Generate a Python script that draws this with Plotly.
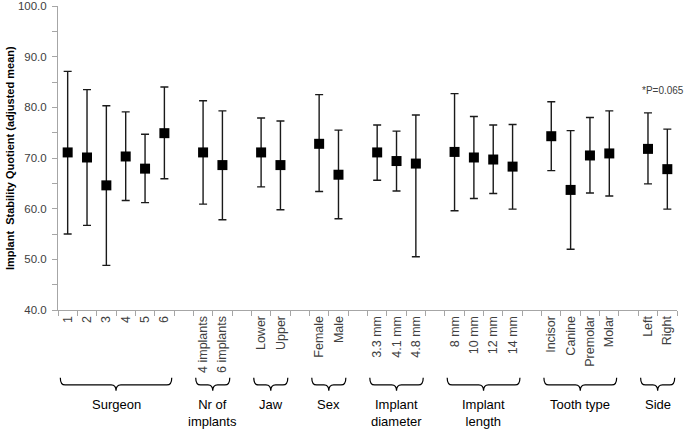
import plotly.graph_objects as go

# ---- data ----
group_names = ["Surgeon", "Nr of<br>implants", "Jaw", "Sex", "Implant<br>diameter",
               "Implant<br>length", "Tooth type", "Side"]
group_cats = [
    ["1", "2", "3", "4", "5", "6"],
    ["4 implants", "6 implants"],
    ["Lower", "Upper"],
    ["Female", "Male"],
    ["3.3 mm", "4.1 mm", "4.8 mm"],
    ["8 mm", "10 mm", "12 mm", "14 mm"],
    ["Incisor", "Canine", "Premolar", "Molar"],
    ["Left", "Right"],
]
means = [71.1, 70.1, 64.6, 70.3, 67.9, 74.9,
         71.1, 68.6,
         71.1, 68.6,
         72.8, 66.7,
         71.1, 69.4, 68.9,
         71.2, 70.1, 69.7, 68.3,
         74.3, 63.7, 70.5, 70.9,
         71.8, 67.8]
upper = [87.1, 83.5, 80.3, 79.1, 74.7, 84.0,
         81.3, 79.3,
         77.9, 77.3,
         82.5, 75.5,
         76.5, 75.3, 78.5,
         82.7, 78.2, 76.5, 76.6,
         81.1, 75.4, 78.0, 79.3,
         78.9, 75.7]
lower = [55.0, 56.7, 48.8, 61.6, 61.2, 65.9,
         60.9, 57.8,
         64.3, 59.8,
         63.4, 58.0,
         65.6, 63.5, 50.5,
         59.6, 62.0, 63.0, 59.9,
         67.5, 52.0, 63.1, 62.5,
         64.9, 59.9]
y_ticks = [40, 50, 60, 70, 80, 90, 100]
p_note = "*P=0.065"

# ---- positions: categories in slots, one empty slot between groups ----
xs, labels, group_spans = [], [], []
slot = 0
for gi, cats in enumerate(group_cats):
    start = slot
    for c in cats:
        xs.append(slot + 0.5)
        labels.append(c)
        slot += 1
    group_spans.append((start, slot))
    if gi < len(group_cats) - 1:
        slot += 1
n_slots = slot

err_plus = [u - m for u, m in zip(upper, means)]
err_minus = [m - l for m, l in zip(means, lower)]

fig = go.Figure()
fig.add_trace(go.Scatter(
    x=xs, y=means, mode="markers",
    marker=dict(symbol="square", size=10, color="black"),
    error_y=dict(type="data", symmetric=False, array=err_plus, arrayminus=err_minus,
                 color="#1a1a1a", thickness=1.4, width=4),
    showlegend=False, cliponaxis=False,
))

axis_col = "#a6a6a6"
fig.update_layout(
    width=685, height=431,
    margin=dict(l=58, r=8, t=6, b=121),
    plot_bgcolor="white", paper_bgcolor="white",
    font=dict(family="Liberation Sans, Arial, sans-serif", color="#404040"),
    xaxis=dict(
        range=[0, n_slots], showgrid=False, zeroline=False, automargin=False,
        showline=True, linecolor=axis_col, linewidth=1,
        tickmode="array", tickvals=xs, ticktext=labels, tickangle=-90,
        ticks="", tickfont=dict(size=12.5, color="#404040"),
        minor=dict(tickmode="array", tickvals=list(range(0, n_slots + 1)),
                   ticks="outside", ticklen=5, tickcolor=axis_col),
    ),
    yaxis=dict(
        range=[40, 100], showgrid=False, zeroline=False, automargin=False,
        showline=True, linecolor=axis_col, linewidth=1,
        tickmode="array", tickvals=y_ticks, tickformat=".1f",
        ticks="outside", ticklen=5, tickcolor=axis_col, ticklabelstandoff=3,
        tickfont=dict(size=11.5, color="#404040"),
        minor=dict(dtick=5, ticks="outside", ticklen=5, tickcolor=axis_col),
    ),
)

# y-axis title
fig.add_annotation(
    text="<b>Implant  Stability Quotient (adjusted mean)</b>",
    xref="paper", yref="paper", x=-0.0775, y=0.5, textangle=-90,
    showarrow=False, xanchor="center", yanchor="middle",
    font=dict(size=11, color="black"),
)

# p-value note
fig.add_annotation(
    text=p_note, xref="x", yref="y", x=31.27, y=83.3, showarrow=False,
    font=dict(size=10, color="#404040"),
)

# braces and group labels
ytop, yline, ytip = -0.2225, -0.2465, -0.266
for (s, e), name in zip(group_spans, group_names):
    x0, x1 = s + 0.12, e - 0.12
    xm = (x0 + x1) / 2
    d = 0.25
    path = (f"M {x0},{ytop} Q {x0},{yline} {x0 + d},{yline} "
            f"L {xm - d},{yline} Q {xm},{yline} {xm},{ytip} "
            f"Q {xm},{yline} {xm + d},{yline} "
            f"L {x1 - d},{yline} Q {x1},{yline} {x1},{ytop}")
    fig.add_shape(type="path", path=path, xref="x", yref="paper",
                  line=dict(color="black", width=1.2))
    fig.add_annotation(
        text=name, xref="x", yref="paper", x=(s + e) / 2, y=-0.281,
        showarrow=False, xanchor="center", yanchor="top",
        font=dict(size=13, color="black"),
    )

fig.write_html("out.html", config={"displayModeBar": False},
               post_script="document.body.style.margin='0';")
